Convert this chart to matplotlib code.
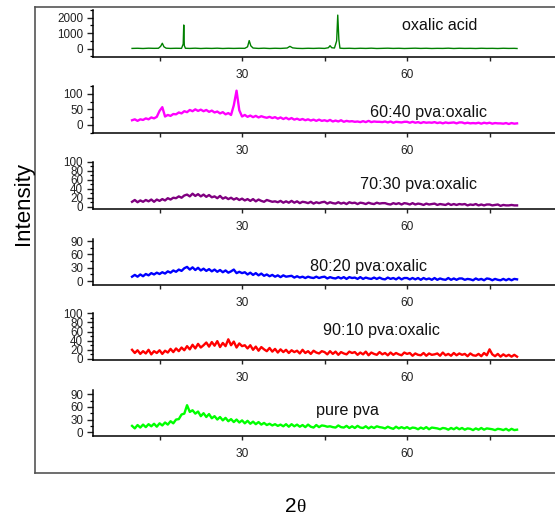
import numpy as np
import matplotlib
matplotlib.use('Agg')
import matplotlib.pyplot as plt
from matplotlib.ticker import MultipleLocator

plt.rcParams['font.family'] = ['Liberation Sans', 'DejaVu Sans']

# 2-theta grid for the blend scans (0.5 deg steps, 10..80)
two_theta = np.arange(10.0, 80.01, 0.5)

# oxalic acid scan, sharp reflections
oxalic_x = [10, 11, 12, 13, 14, 14.8, 15.2, 15.5, 15.8, 16.2, 17, 18, 19.0, 19.3, 19.4, 19.5, 19.7,
            20.5, 21.5, 22.5, 23.5, 24.5, 25.5, 26.5, 27.5, 28.5, 29.5, 30.5, 31.0, 31.3, 31.6, 32,
            33, 34, 35, 36, 37, 38.2, 38.7, 39.2, 40, 41, 42, 43, 44, 45, 45.7, 46.0, 46.3, 46.8,
            47.2, 47.4, 47.6, 47.8, 48.5, 49.5, 50.5, 51.5, 52.5, 53.5, 54.5, 55.5, 56.5, 57.5,
            58.5, 59.5, 60.5, 61.5, 62.5, 63.5, 64.5, 65.5, 66.5, 67.5, 68.5, 69.5, 70.5, 71.5,
            72.5, 73.5, 74.5, 75.5, 76.5, 77.5, 78.5, 79.5, 80]
oxalic_y = [15, 25, 10, 30, 20, 25, 150, 350, 120, 30, 15, 25, 20, 300, 1530, 200, 25,
            15, 30, 10, 25, 15, 30, 10, 25, 15, 25, 20, 120, 520, 180, 40,
            15, 30, 10, 25, 15, 40, 150, 50, 20, 10, 25, 15, 30, 15, 60, 190, 60, 40,
            500, 2170, 600, 30, 15, 25, 10, 25, 15, 30, 10, 20, 30, 15,
            25, 10, 20, 30, 15, 25, 10, 20, 15, 30, 10, 25, 15, 20,
            10, 25, 15, 20, 10, 25, 15, 20, 10]

pva_60_40 = [15, 18, 13, 18, 16, 21, 18, 24, 21, 26,
             45, 57, 27, 32, 29, 35, 34, 40, 37, 44,
             41, 48, 44, 50, 45, 49, 44, 48, 42, 46,
             40, 43, 37, 41, 34, 38, 32, 63, 110, 47,
             27, 32, 26, 30, 25, 29, 24, 28, 25, 23,
             26, 22, 25, 20, 24, 19, 23, 18, 22, 17,
             20, 16, 19, 15, 18, 14, 17, 13, 17, 13,
             15, 12, 16, 11, 14, 11, 15, 10, 13, 11,
             12, 10, 11, 9, 12, 9, 13, 9, 11, 10,
             10, 9, 11, 8, 11, 7, 10, 9, 8, 10,
             10, 7, 10, 7, 9, 6, 9, 7, 8, 7,
             9, 6, 8, 5, 8, 6, 7, 8, 5, 8,
             8, 5, 7, 5, 6, 5, 7, 4, 7, 5,
             7, 4, 6, 5, 5, 4, 6, 3, 6, 4,
             5]

pva_70_30 = [11, 15, 10, 14, 11, 15, 12, 16, 11, 16,
             13, 17, 14, 19, 16, 20, 19, 23, 20, 25,
             27, 23, 29, 24, 28, 23, 27, 22, 26, 21,
             23, 19, 24, 18, 21, 17, 20, 16, 19, 15,
             18, 14, 17, 13, 17, 12, 16, 13, 11, 15,
             13, 11, 12, 10, 13, 9, 12, 9, 13, 9,
             12, 8, 11, 10, 8, 11, 7, 10, 8, 10,
             11, 7, 10, 8, 7, 10, 7, 9, 6, 10,
             8, 9, 6, 9, 8, 6, 9, 7, 6, 9,
             7, 8, 8, 6, 5, 8, 6, 8, 5, 8,
             7, 5, 8, 5, 7, 6, 4, 7, 5, 6,
             7, 4, 6, 5, 4, 7, 4, 6, 4, 6,
             5, 6, 3, 5, 4, 6, 3, 5, 3, 5,
             5, 3, 4, 5, 2, 4, 3, 3, 4, 3,
             3]

pva_80_20 = [10, 14, 10, 15, 11, 16, 13, 18, 15, 19,
             16, 20, 17, 22, 19, 24, 21, 26, 23, 29,
             32, 26, 31, 25, 30, 24, 28, 23, 27, 22,
             26, 21, 25, 20, 24, 19, 22, 26, 18, 21,
             18, 20, 15, 19, 14, 18, 13, 17, 12, 15,
             11, 14, 10, 13, 9, 13, 10, 11, 12, 8,
             11, 8, 10, 7, 10, 8, 7, 10, 7, 9,
             10, 6, 9, 7, 6, 9, 6, 9, 5, 9,
             7, 8, 5, 9, 5, 8, 6, 5, 8, 5,
             8, 5, 4, 8, 5, 7, 4, 8, 4, 7,
             7, 4, 7, 4, 7, 3, 7, 4, 6, 3,
             7, 3, 6, 4, 3, 7, 3, 6, 3, 6,
             6, 3, 5, 4, 2, 6, 3, 5, 2, 6,
             5, 2, 5, 3, 2, 5, 2, 5, 2, 5,
             4]

pva_90_10 = [20, 13, 19, 11, 17, 12, 20, 10, 17, 13,
             19, 11, 18, 14, 22, 15, 23, 17, 25, 19,
             28, 21, 31, 23, 33, 25, 30, 36, 27, 37,
             29, 39, 26, 35, 28, 43, 30, 38, 25, 34,
             28, 30, 23, 30, 20, 27, 18, 26, 21, 17,
             24, 16, 22, 14, 21, 15, 20, 13, 19, 15,
             18, 12, 20, 13, 17, 11, 18, 14, 12, 17,
             15, 10, 17, 11, 16, 9, 15, 12, 10, 16,
             13, 15, 9, 14, 10, 16, 8, 14, 11, 9,
             15, 10, 13, 8, 14, 9, 13, 10, 8, 14,
             11, 13, 7, 12, 9, 8, 13, 7, 12, 9,
             10, 12, 7, 14, 8, 11, 7, 13, 8, 12,
             9, 11, 6, 12, 8, 7, 11, 6, 13, 8,
             21, 10, 6, 11, 5, 10, 6, 9, 5, 9,
             5]

pure_pva = [15, 9, 17, 11, 18, 12, 19, 14, 20, 13,
            21, 16, 23, 18, 26, 21, 30, 31, 42, 44,
            64, 48, 52, 44, 49, 38, 45, 36, 43, 33,
            38, 30, 36, 28, 34, 26, 31, 24, 30, 23,
            28, 21, 27, 20, 25, 19, 24, 18, 22, 17,
            20, 16, 19, 15, 18, 14, 19, 13, 19, 14,
            18, 13, 17, 12, 18, 13, 11, 17, 12, 16,
            15, 13, 14, 12, 11, 16, 12, 11, 15, 10,
            14, 10, 15, 11, 10, 14, 9, 13, 10, 14,
            12, 11, 9, 13, 10, 8, 13, 9, 12, 9,
            12, 8, 11, 10, 7, 11, 8, 12, 7, 11,
            10, 9, 7, 10, 9, 6, 10, 7, 11, 7,
            10, 6, 9, 8, 5, 9, 6, 10, 6, 9,
            8, 7, 5, 8, 7, 5, 8, 4, 8, 5,
            6]

labels = ['oxalic acid', '60:40 pva:oxalic', '70:30 pva:oxalic',
          '80:20 pva:oxalic', '90:10 pva:oxalic', 'pure pva']
colors = ['#008000', '#ff00ff', '#800080', '#0000ff', '#ff0000', '#00ff00']

W, H = 555, 519
fig = plt.figure(figsize=(W / 100, H / 100), dpi=100)

def frac(x0, y0, x1, y1):
    # pixel box (top-left origin) -> figure fraction rect
    return [x0 / W, 1 - y1 / H, (x1 - x0) / W, (y1 - y0) / H]

# outer frame
frame = fig.add_axes(frac(35, 7, 560, 473.3))
frame.set_xticks([])
frame.set_yticks([])
frame.patch.set_alpha(0)
frame.spines['right'].set_visible(False)
for s in ['left', 'top', 'bottom']:
    frame.spines[s].set_color('#555555')
    frame.spines[s].set_linewidth(1.2)

# panel layout: (top px, bottom px, ylim, major step, minor step, label pos px)
panels = [
    (10, 57, (-540, 2500), 1000, 500, (440, 25.5)),
    (86, 132.7, (-25, 125), 50, 25, (428, 113)),
    (161.7, 209, (-5, 100), 20, 10, (418, 185)),
    (239.3, 284.7, (-8, 94), 30, 15, (368, 267)),
    (313.3, 360.3, (-3, 100), 20, 10, (381, 330)),
    (390, 436, (-9, 100), 30, 15, (347, 410.5)),
]
series = [(oxalic_x, oxalic_y), (two_theta, pva_60_40), (two_theta, pva_70_30),
          (two_theta, pva_80_20), (two_theta, pva_90_10), (two_theta, pure_pva)]

for i, (top, bot, ylim, major, minor, lpos) in enumerate(panels):
    ax = fig.add_axes(frac(93, top, 555, bot))
    ax.patch.set_alpha(0)
    xs, ys = series[i]
    ax.plot(xs, ys, color=colors[i], lw=1.0 if i == 0 else 1.7)
    ax.set_xlim(2.9, 86.9)
    ax.set_ylim(*ylim)
    ax.spines['top'].set_visible(False)
    ax.spines['right'].set_visible(False)
    for s in ['left', 'bottom']:
        ax.spines[s].set_linewidth(1.1)
    ax.set_xticks([15, 30, 45, 60, 75], ['', '30', '', '60', ''])
    ax.yaxis.set_major_locator(MultipleLocator(major))
    ax.yaxis.set_minor_locator(MultipleLocator(minor))
    ax.set_yticks([t for t in ax.get_yticks() if 0 <= t <= ylim[1]])
    ax.set_ylim(*ylim)
    ax.tick_params(axis='x', direction='out', length=3.2, width=1, pad=5.5,
                   labelsize=8.6, colors='#222222')
    ax.tick_params(axis='y', which='major', direction='out', length=4.5, width=1,
                   pad=2.6, labelsize=8.4, colors='#222222')
    ax.tick_params(axis='y', which='minor', direction='out', length=2.4, width=0.9)
    fig.text(lpos[0] / W, 1 - lpos[1] / H, labels[i], ha='center', va='center',
             fontsize=11.6, color='#111111')

fig.text(23.3 / W, 1 - 203.3 / H, 'Intensity', rotation=90, ha='center', va='center',
         fontsize=16)
fig.text(296 / W, 1 - 507 / H, '2', ha='right', va='center', fontsize=15)
fig.text(296 / W, 1 - 507.5 / H, 'θ', ha='left', va='center', fontsize=14,
         family=['Liberation Serif', 'DejaVu Serif'])

fig.savefig('out.png', dpi=100)
